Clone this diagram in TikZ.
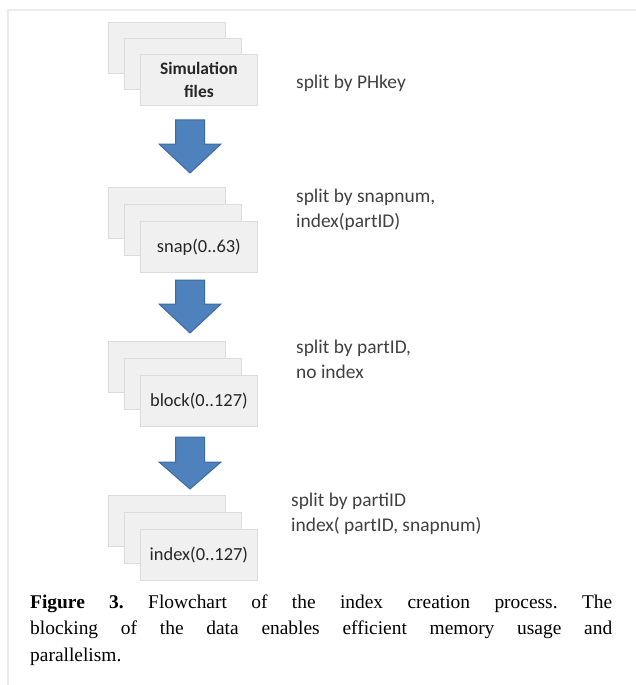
\documentclass[tikz,border=0pt]{standalone}
\usepackage{fontspec}
\setmainfont{Liberation Serif}
\newfontfamily\diagfont{Carlito}
\usetikzlibrary{calc}

\definecolor{arrowfill}{HTML}{4F81BD}
\definecolor{arrowedge}{HTML}{3D6B9F}
\definecolor{boxfill}{HTML}{F0F0F0}
\definecolor{boxedge}{HTML}{DCDCDC}
\definecolor{frameline}{HTML}{EBEBEB}
\definecolor{boxtextcol}{HTML}{262626}
\definecolor{notecol}{HTML}{404040}

% block arrow pointing down: centre x, top of shaft, start of head, tip
\newcommand\downblockarrow[4]{%
  \filldraw[bigarrow]
    (#1-14.5,#2) -- (#1+14.5,#2) -- (#1+14.5,#3) -- (#1+31,#3)
    -- (#1,#4) -- (#1-31,#3) -- (#1-14.5,#3) -- cycle;}

\begin{document}
\begin{tikzpicture}[x=1bp,y=-1bp,
  filebox/.style={draw=boxedge, fill=boxfill, line width=0.8bp,
    minimum width=117bp, minimum height=51bp, inner sep=0pt,
    anchor=north west, text=boxtextcol,
    font=\diagfont\fontsize{18.5}{24}\selectfont},
  titlebox/.style={filebox, align=center,
    font=\diagfont\bfseries\fontsize{17.5}{24}\selectfont},
  note/.style={anchor=base west, inner sep=0pt, align=left, text=notecol,
    font=\diagfont\fontsize{19.5}{25}\selectfont},
  bigarrow/.style={fill=arrowfill, draw=arrowedge, line width=1bp,
    line join=miter},
  caption/.style={anchor=base west, inner sep=0pt, text width=582bp,
    align=justify, font=\frenchspacing\fontsize{19.5}{27}\selectfont}]

\useasboundingbox (0,0) rectangle (636,685);

% page frame
\draw[frameline, line width=2bp] (636,10) -- (8,10) -- (8,685);

% stack 1: simulation files
\node[filebox] (s1a) at (108,22) {};
\node[filebox] (s1b) at (124,38) {};
\node[titlebox] (s1c) at (140,54) {Simulation\\files};

% stack 2: snapshots
\node[filebox] (s2a) at (108,187) {};
\node[filebox] (s2b) at (124,204) {};
\node[filebox] (s2c) at (140,221) {\raisebox{-3bp}{snap(0..63)}};

% stack 3: blocks
\node[filebox] (s3a) at (108,341) {};
\node[filebox] (s3b) at (124,358) {};
\node[filebox] (s3c) at (140,375) {\raisebox{-2bp}{block(0..127)}};

% stack 4: index files
\node[filebox] (s4a) at (108,495) {};
\node[filebox] (s4b) at (124,512) {};
\node[filebox] (s4c) at (140,529) {\raisebox{-3bp}{index(0..127)}};

% step arrows between the stacks
\downblockarrow{190}{120}{144}{173}
\downblockarrow{190}{280}{304}{333}
\downblockarrow{190}{437}{462}{489}

% notes on each step
\node[note] (n1) at (296,89) {split by PHkey};
\node[note] (n2) at (296,227) {split by snapnum,\\index(partID)};
\node[note] (n3) at (296,378) {split by partID,\\no index};
\node[note] (n4) at (291,531) {split by partiID\\index( partID, snapnum)};

% caption
\node[caption] (cap) at (30,608) {\textbf{Figure 3.} Flowchart of the index
  creation process. The\linebreak blocking of the data enables efficient
  memory usage and\linebreak parallelism.};
\end{tikzpicture}
\end{document}
